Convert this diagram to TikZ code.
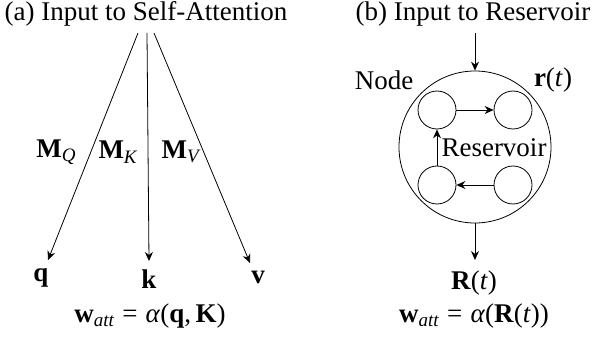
\documentclass[tikz,border=0pt]{standalone}
\usepackage{fontspec}
\setmainfont{Liberation Serif}
\usetikzlibrary{arrows.meta}
\newcommand\mysub[1]{\raisebox{-0.35ex}{\fontsize{19}{19}\selectfont\textit{#1}}}
\newcommand\myeq{\hspace{0.3em}=\hspace{0.3em}}
\begin{document}
\begin{tikzpicture}[x=1pt,y=-1pt,
  lbl/.style={inner sep=0pt,font=\fontsize{27}{29}\selectfont},
  arr/.style={line width=0.8pt,-{Stealth[length=9pt,width=8pt,inset=3pt]}},
  small/.style={circle,draw,line width=0.8pt,minimum size=38pt,inner sep=0pt},
  big/.style={circle,draw,line width=0.8pt,minimum size=152pt,inner sep=0pt}]
\useasboundingbox (0,0) rectangle (592,339);
% panel (a)
\node[lbl] (ta) at (146,14) {(a) Input to Self-Attention};
\coordinate (qs) at (138,33);
\coordinate (ks) at (147,33);
\coordinate (vs) at (154,33);
\coordinate (qe) at (48,260);
\coordinate (ke) at (149,261);
\coordinate (ve) at (250,263);
\draw[arr] (qs) -- (qe);
\draw[arr] (ks) -- (ke);
\draw[arr] (vs) -- (ve);
\node[lbl] (mq) at (56,152) {\textbf{M}\mysub{Q}};
\node[lbl] (mk) at (118,152) {\textbf{M}\mysub{K}};
\node[lbl] (mv) at (181,152) {\textbf{M}\mysub{V}};
\node[lbl] (q) at (41,278) {\textbf{q}};
\node[lbl] (k) at (149,279) {\textbf{k}};
\node[lbl] (v) at (258,277) {\textbf{v}};
\node[lbl] (fa) at (150,316) {\textbf{w}\mysub{att}\myeq\textit{α}(\textbf{q},\,\textbf{K})};
% panel (b)
\node[lbl] (tb) at (473,14) {(b) Input to Reservoir};
\node[big] (res) at (475,147) {};
\coordinate (in) at (475,33);
\coordinate (out) at (475,260);
\draw[arr] (in) -- (res.north);
\draw[arr] (res.south) -- (out);
\node[small] (tl) at (437,110) {};
\node[small] (tr) at (513,110) {};
\node[small] (bl) at (437,185) {};
\node[small] (br) at (513,185) {};
\draw[arr] (tl) -- (tr);
\draw[arr] (br) -- (bl);
\draw[arr] (bl) -- (tl);
\node[lbl] (rl) at (494,148) {Reservoir};
\node[lbl] (nd) at (384,80) {Node};
\node[lbl] (rt) at (553,80) {\textbf{r}(\textit{t})};
\node[lbl] (Rt) at (474,283) {\textbf{R}(\textit{t})};
\node[lbl] (fb) at (474,316) {\textbf{w}\mysub{att}\myeq\textit{α}(\textbf{R}(\textit{t}))};
\end{tikzpicture}
\end{document}
